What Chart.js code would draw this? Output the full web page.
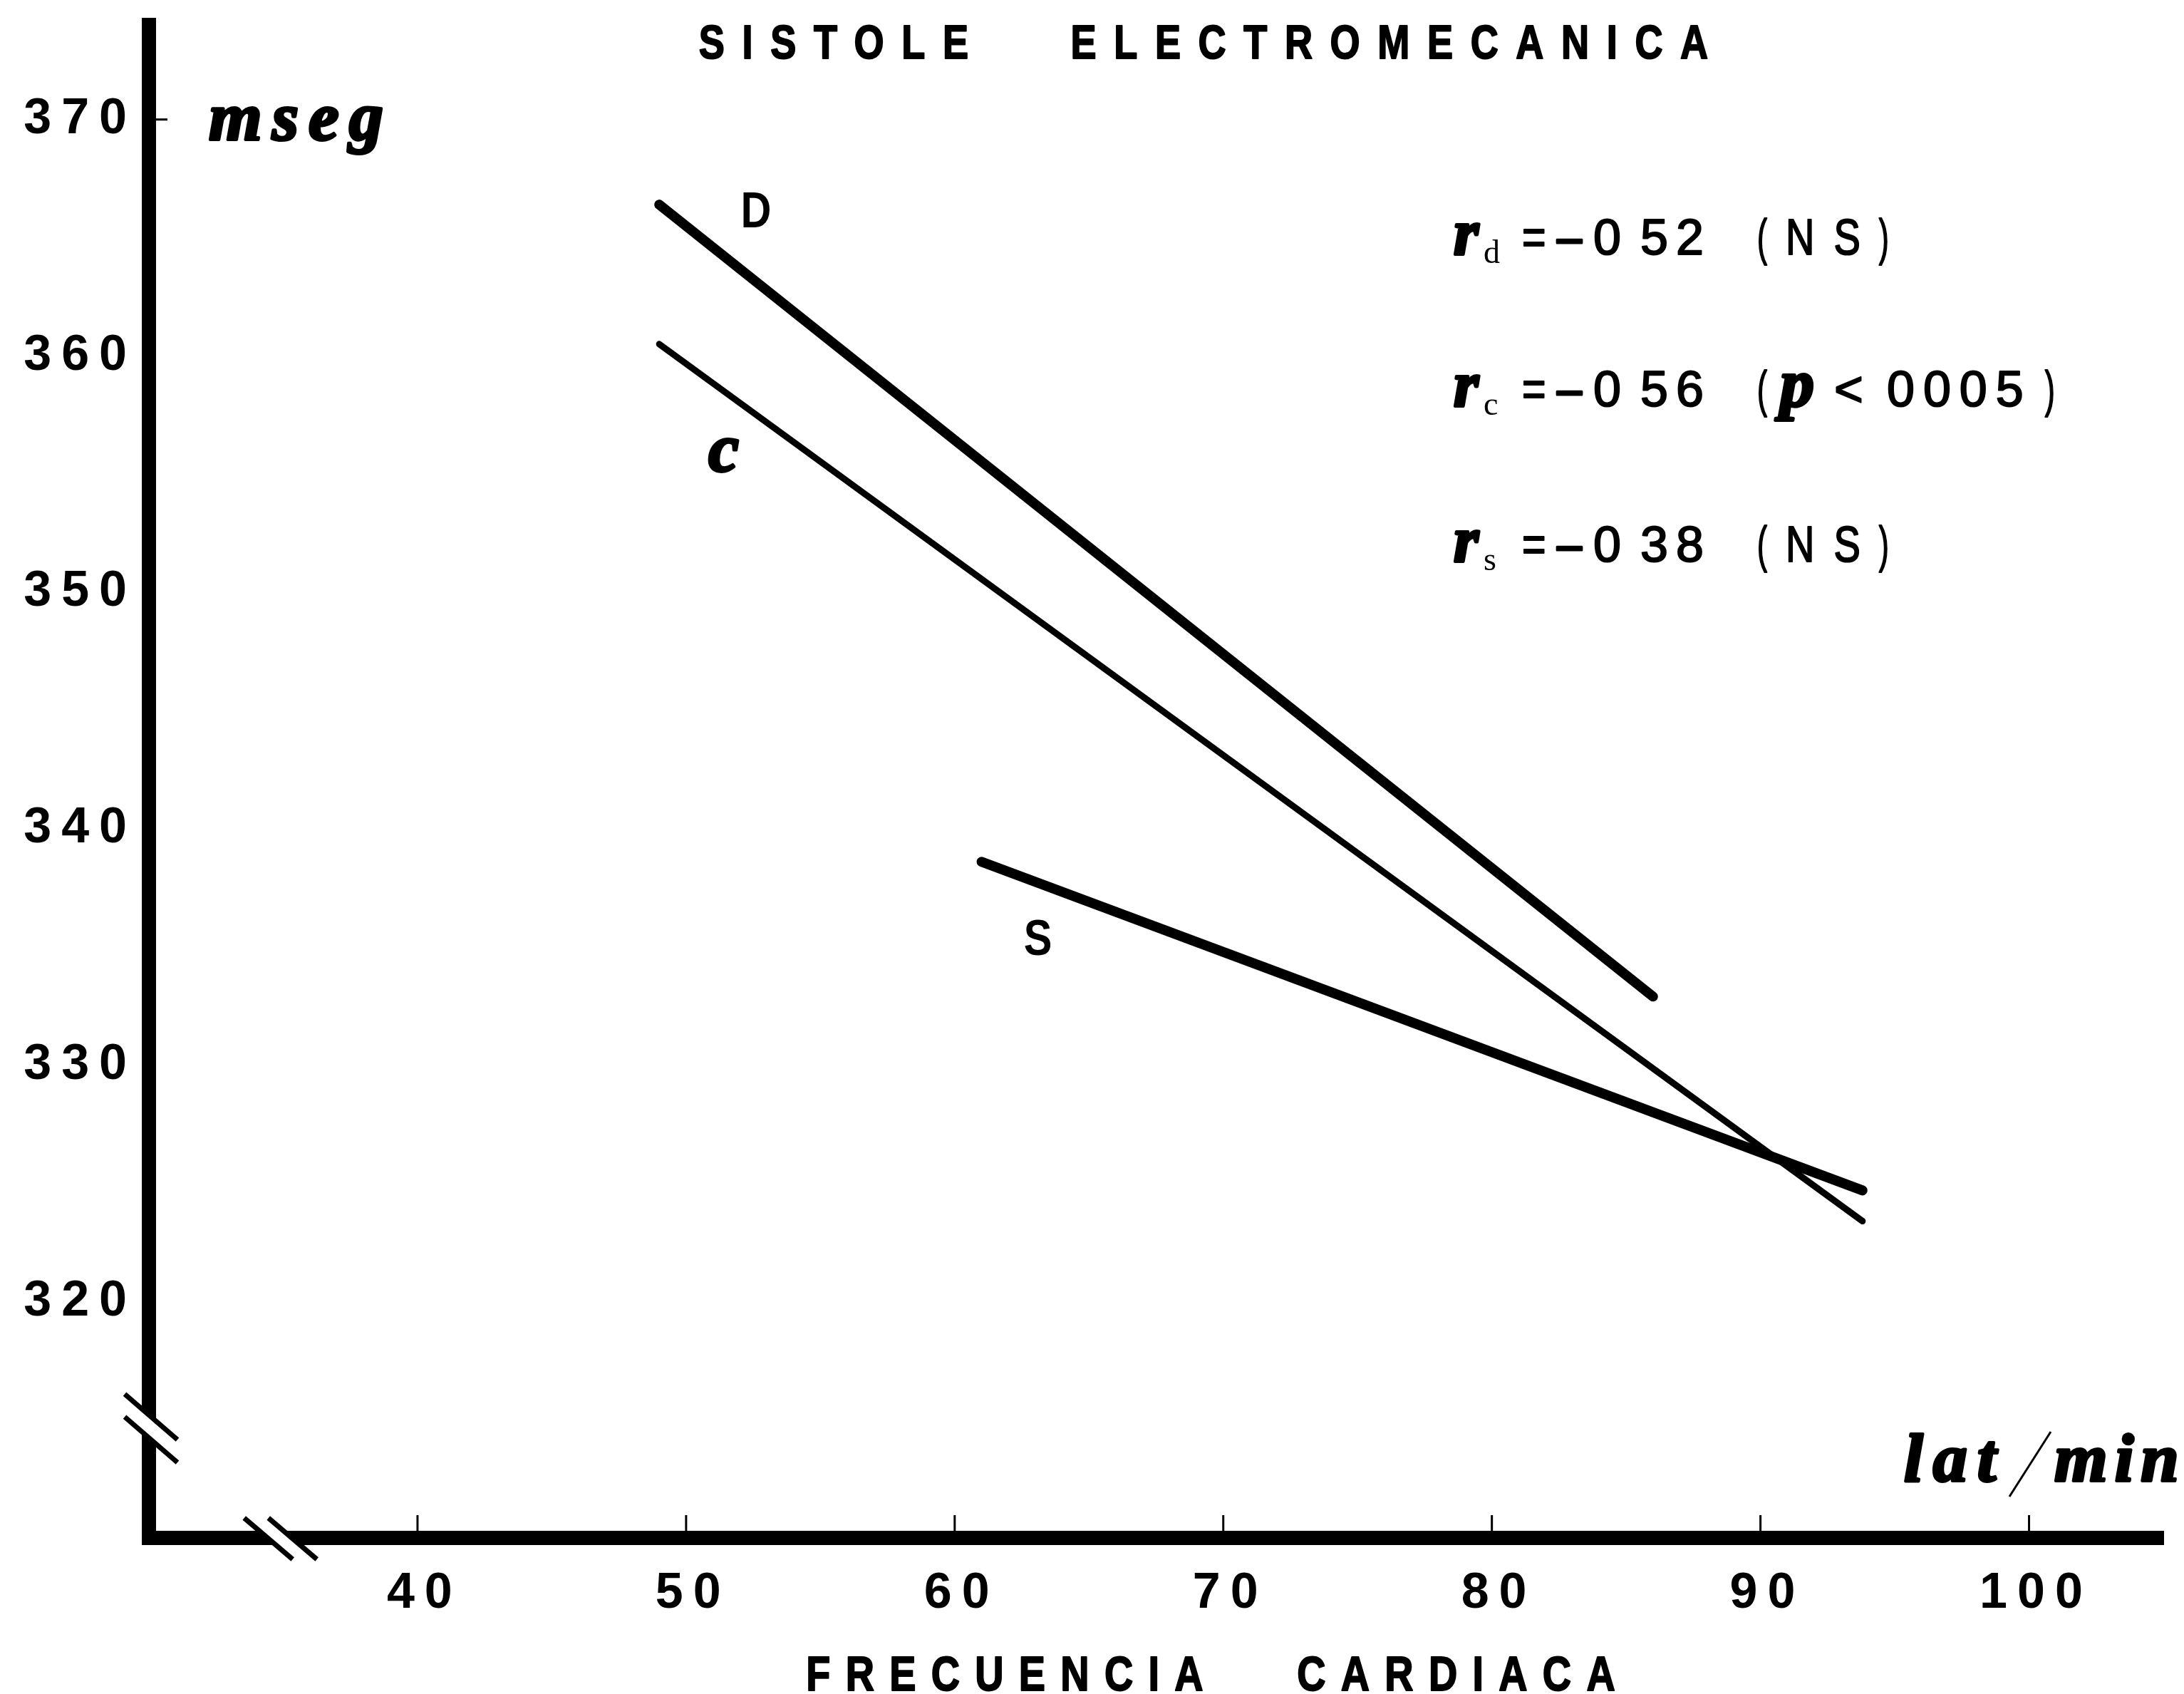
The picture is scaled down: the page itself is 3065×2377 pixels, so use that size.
<!DOCTYPE html>
<html>
<head>
<meta charset="utf-8">
<script src="https://cdn.jsdelivr.net/npm/chart.js@4.4.0/dist/chart.umd.min.js"></script>
<style>
  html, body { margin: 0; padding: 0; background: #fff; }
  #wrap { width: 3065px; height: 2377px; position: relative; }
</style>
</head>
<body>
<div id="wrap"><canvas id="chart"></canvas></div>
<script>
// Axis ranges (both axes are broken near the origin)
const X_MIN = 30, X_MAX = 105;
const Y_MIN = 310, Y_MAX = 374;
const xTicks = [40, 50, 60, 70, 80, 90, 100];
const yTicks = [320, 330, 340, 350, 360, 370];

// Regression lines, end points (lat/min -> mseg)
const dX = [49, 86];
const dY = [366.4, 332.9];
const cX = [49, 93.8];
const cY = [360.5, 323.4];
const sX = [61, 93.8];
const sY = [338.6, 324.7];

const lineNames = ['D', 'c', 'S'];
const corrSub = ['d', 'c', 's'];
const corrValue = ['0 52', '0 56', '0 38'];
const corrNote = ['NS', 'p<0005', 'NS'];

// where the name of each line sits, in data units
const nameAnchorX = [52.6, 51.4, 63.1];
const nameAnchorY = [366.2, 355.8, 335.4];
const X_BREAK = 34.9, Y_BREAK = 314.7;

const SANS = '"Liberation Sans", Arial, sans-serif';
const SERIF = '"Liberation Serif", "DejaVu Serif", serif';

function pts(xs, ys) {
    return xs.map((x, i) => ({ x: x, y: ys[i] }));
}

// draws one piece of text squeezed by sx (spacing in real px), returns its right edge
function drawText(ctx, str, x, y, font, opts = {}) {
    const sx = opts.sx || 1;
    const spacing = (opts.spacing || 0) / sx;
    ctx.save();
    ctx.font = font;
    ctx.letterSpacing = spacing + 'px';
    ctx.textBaseline = 'alphabetic';
    ctx.textAlign = 'left';
    ctx.fillStyle = '#000';
    const w = (ctx.measureText(str).width - spacing) * sx;
    let left = x;
    if (opts.align === 'center') left = x - w / 2;
    if (opts.align === 'right') left = x - w;
    ctx.translate(left, y);
    ctx.scale(sx, 1);
    ctx.fillText(str, 0, 0);
    if (opts.heavy) {
        ctx.lineWidth = opts.heavy;
        ctx.strokeStyle = '#000';
        ctx.lineJoin = 'round';
        ctx.strokeText(str, 0, 0);
    }
    ctx.restore();
    return left + w;
}

function stroke(ctx, x1, y1, x2, y2, width, color) {
    ctx.beginPath();
    ctx.moveTo(x1, y1);
    ctx.lineTo(x2, y2);
    ctx.lineWidth = width;
    ctx.strokeStyle = color;
    ctx.stroke();
}

const figureDecor = {
    id: 'figureDecor',
    beforeDraw(chart) {
        chart.ctx.letterSpacing = '14px';   // spaced tick digits
    },
    afterDatasetsDraw(chart) {
        chart.ctx.letterSpacing = '0px';
    },
    afterDraw(chart) {
        const { ctx, chartArea: area, scales: { x, y } } = chart;
        ctx.save();
        ctx.lineCap = 'butt';

        // small tick marks drawn inside the axes
        xTicks.forEach(v => {
            const px = x.getPixelForValue(v);
            stroke(ctx, px, area.bottom - 8, px, area.bottom - 32, 3, '#000');
        });
        const top = y.getPixelForValue(yTicks[yTicks.length - 1]);
        stroke(ctx, area.left + 8, top, area.left + 26, top, 3, '#000');

        // axis breaks
        const by = y.getPixelForValue(Y_BREAK);
        stroke(ctx, area.left - 30, by - 26, area.left + 30, by + 26, 26, '#fff');
        [-16, 16].forEach(o => stroke(ctx, area.left - 34, by + o - 30, area.left + 40, by + o + 34, 7, '#000'));
        const bx = x.getPixelForValue(X_BREAK);
        stroke(ctx, bx - 30, area.bottom - 26, bx + 30, area.bottom + 26, 26, '#fff');
        [-17, 17].forEach(o => stroke(ctx, bx + o - 34, area.bottom - 28, bx + o + 34, area.bottom + 30, 7, '#000'));

        // titles
        drawText(ctx, 'SISTOLE   ELECTROMECANICA', 1689, 82, `bold 66px ${SANS}`, { align: 'center', spacing: 24.6, sx: 0.82, heavy: 2 });
        drawText(ctx, 'FRECUENCIA   CARDIACA', 1699, 2372, `bold 68px ${SANS}`, { align: 'center', spacing: 21.3, sx: 0.82, heavy: 2 });

        // units
        drawText(ctx, 'mseg', 293, 196, `italic bold 96px ${SERIF}`, { spacing: 14, heavy: 4 });
        drawText(ctx, 'lat', 2672, 2078, `italic bold 96px ${SERIF}`, { spacing: 14, heavy: 4 });
        stroke(ctx, 2820, 2100, 2878, 2009, 3, '#000');
        drawText(ctx, 'min', 2883, 2078, `italic bold 96px ${SERIF}`, { spacing: 10, heavy: 4 });

        // line names
        lineNames.forEach((name, i) => {
            const px = x.getPixelForValue(nameAnchorX[i]);
            const py = y.getPixelForValue(nameAnchorY[i]);
            if (name === 'c') {
                drawText(ctx, name, px, py + 22, `italic bold 96px ${SERIF}`, { align: 'center', heavy: 4 });
            } else {
                drawText(ctx, name, px, py + 25, `bold 70px ${SANS}`, { align: 'center', sx: 0.85 });
            }
        });

        // correlation coefficients
        const rowBase = [357, 570, 788];
        const num = `70px ${SANS}`;
        corrSub.forEach((sub, i) => {
            const b = rowBase[i];
            drawText(ctx, 'r', 2040, b, `italic bold 90px ${SERIF}`, { heavy: 4 });
            drawText(ctx, sub, 2082, b + 12, `46px ${SERIF}`);
            drawText(ctx, '=', 2136, b, num, { sx: 0.82, heavy: 2 });
            drawText(ctx, '\u2013', 2185, b, num, { sx: 0.9, heavy: 3 });
            const parts = corrValue[i].split(' ');
            drawText(ctx, parts[0], 2236, b, num, { heavy: 2 });
            drawText(ctx, parts[1], 2302, b, num, { spacing: 11, heavy: 2 });
            drawText(ctx, '(', 2466, b, num, { sx: 0.6, heavy: 2 });
            let nx;
            const note = corrNote[i];
            if (note.startsWith('p')) {
                drawText(ctx, 'p', 2498, b, `italic bold 96px ${SERIF}`, { heavy: 4 });
                drawText(ctx, '<', 2574, b, num, { heavy: 2 });
                nx = drawText(ctx, note.slice(2), 2648, b, num, { spacing: 12, heavy: 2 }) + 30;
            } else {
                nx = drawText(ctx, note, 2506, b, num, { spacing: 27, sx: 0.8, heavy: 2 }) + 26;
            }
            drawText(ctx, ')', nx, b, num, { sx: 0.6, heavy: 2 });
        });
        ctx.restore();
    }
};

const lineStyle = { showLine: true, borderColor: '#000', backgroundColor: '#000', pointRadius: 0, borderCapStyle: 'round' };

new Chart(document.getElementById('chart'), {
    type: 'scatter',
    data: {
        datasets: [
            { label: lineNames[0], data: pts(dX, dY), borderWidth: 14, ...lineStyle },
            { label: lineNames[1], data: pts(cX, cY), borderWidth: 9, ...lineStyle },
            { label: lineNames[2], data: pts(sX, sY), borderWidth: 14, ...lineStyle }
        ]
    },
    options: {
        responsive: true,
        maintainAspectRatio: false,
        animation: false,
        layout: { padding: { top: 35, right: 29, left: 0, bottom: 0 } },
        plugins: { legend: { display: false }, tooltip: { enabled: false } },
        scales: {
            x: {
                type: 'linear', min: X_MIN, max: X_MAX,
                afterBuildTicks: s => { s.ticks = xTicks.map(v => ({ value: v })); },
                afterFit: s => { s.height = 219; s.paddingLeft = 0; s.paddingRight = 0; },
                grid: { display: false, drawTicks: false },
                border: { display: true, color: '#000', width: 20 },
                ticks: {
                    color: '#000', padding: 37,
                    // hair space in front balances the trailing letter spacing
                    callback: v => '\u200A' + v,
                    font: { family: SANS, size: 70, weight: 'bold' }
                }
            },
            y: {
                type: 'linear', min: Y_MIN, max: Y_MAX,
                afterBuildTicks: s => { s.ticks = yTicks.map(v => ({ value: v })); },
                afterFit: s => { s.width = 209; s.paddingTop = 0; s.paddingBottom = 0; },
                grid: { display: false, drawTicks: false },
                border: { display: true, color: '#000', width: 20 },
                ticks: { color: '#000', padding: 17, font: { family: SANS, size: 70, weight: 'bold' } }
            }
        }
    },
    plugins: [figureDecor]
});
</script>
</body>
</html>
